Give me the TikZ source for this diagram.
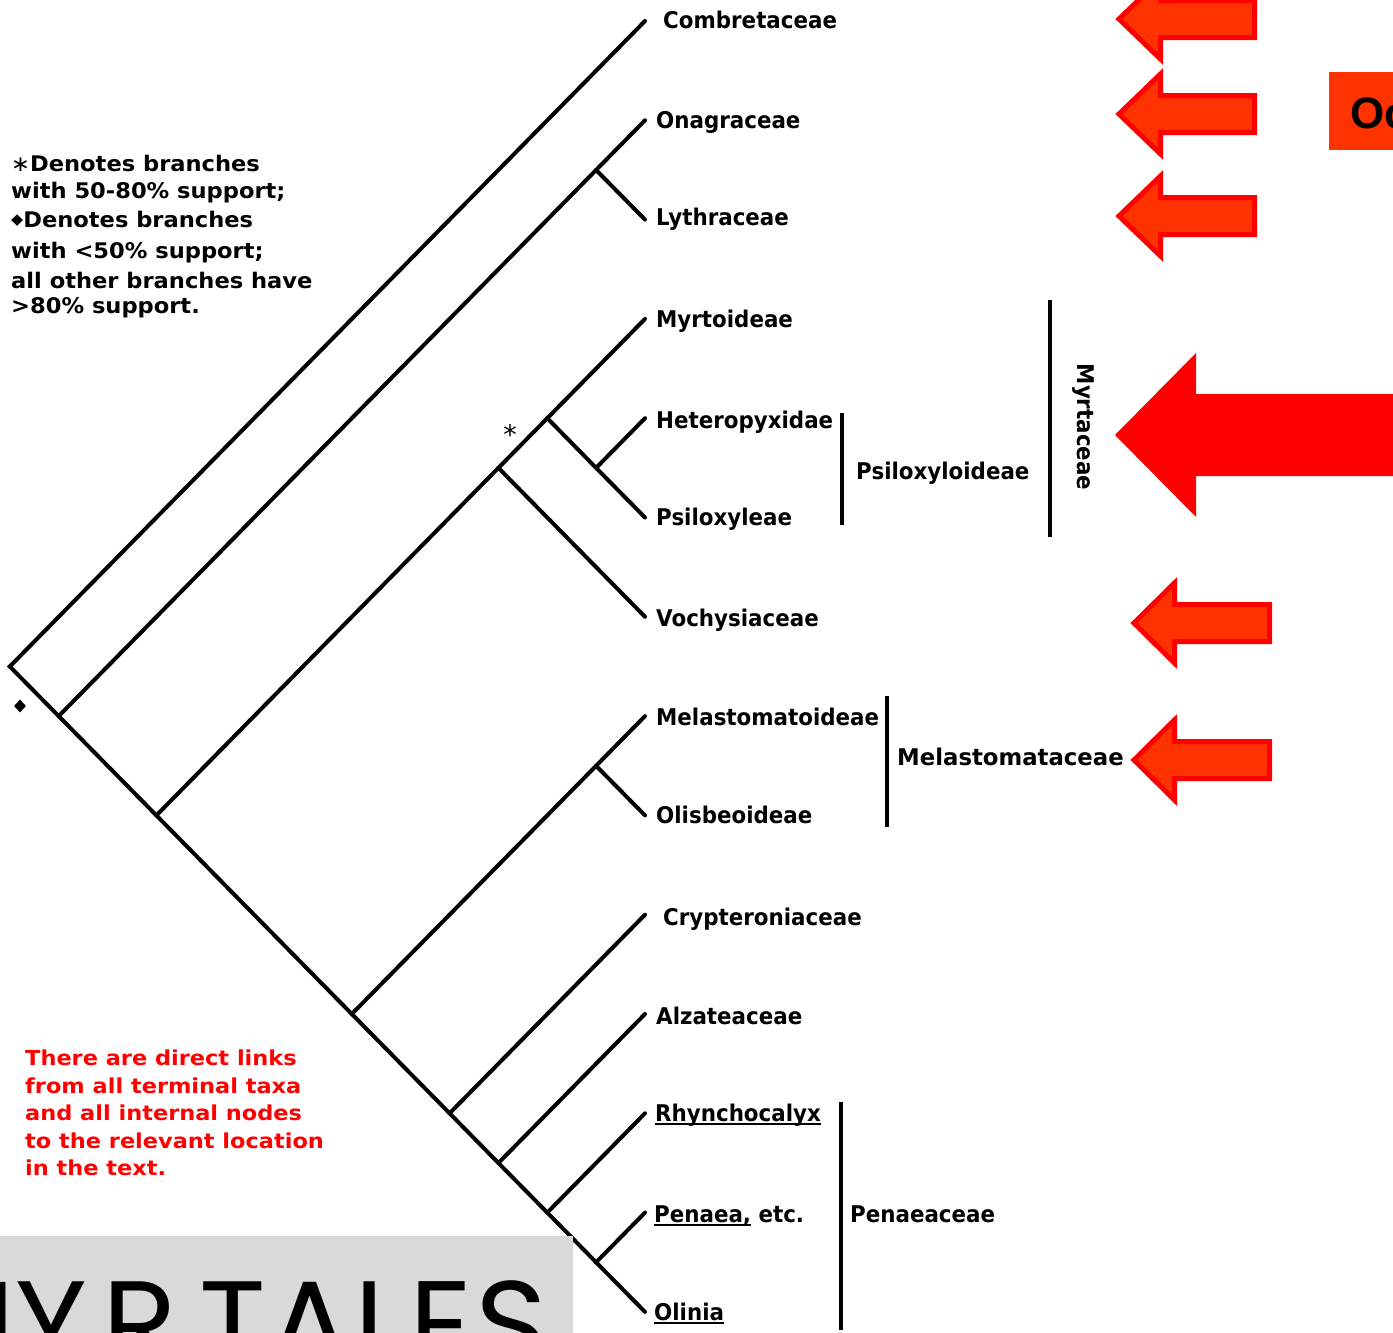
\documentclass[tikz,border=0pt]{standalone}
\usepackage{fontspec}
\setmainfont{DejaVu Sans}
\newfontfamily\lblf[FakeStretch=0.93]{DejaVu Sans}
\newfontfamily\legf[FakeStretch=1.05]{DejaVu Sans}
\newfontfamily\notef[FakeStretch=1.09]{DejaVu Sans}
\newfontfamily\bigf[LetterSpace=2.0]{Poppins}
\newfontfamily\ocf{Liberation Sans}
\usetikzlibrary{shapes.geometric}
\definecolor{arrowfill}{HTML}{FF3300}
\definecolor{arrowline}{HTML}{FF0000}
\definecolor{boxgray}{HTML}{D9D9D9}
\newcommand\ulin[1]{\setbox0\hbox{#1}\rlap{\rule[-4pt]{\wd0}{2.5pt}}\box0\relax}
\tikzset{
  lbl/.style={font=\lblf\bfseries\fontsize{23}{27}\selectfont, anchor=base west, inner sep=0pt},
  grp/.style={lbl},
  leg/.style={font=\legf\bfseries\fontsize{21.5}{26}\selectfont, anchor=base west, inner sep=0pt},
  note/.style={font=\notef\bfseries\fontsize{20.6}{26}\selectfont, anchor=base west, inner sep=0pt, text=red},
  branch/.style={line width=4pt, line cap=round, line join=miter},
  bar/.style={line width=4pt},
  flag/.style={fill=arrowfill, draw=arrowline, line width=5pt, line join=miter},
}
\begin{document}
\begin{tikzpicture}[x=1pt,y=-1pt]
\useasboundingbox (0,0) rectangle (1393,1333);

% tips
\coordinate (t0) at (645,21);
\coordinate (t1) at (645,120.3);
\coordinate (t2) at (645,219.6);
\coordinate (t3) at (645,318.9);
\coordinate (t4) at (645,418.2);
\coordinate (t5) at (645,517.5);
\coordinate (t6) at (645,616.8);
\coordinate (t7) at (645,716.1);
\coordinate (t8) at (645,815.4);
\coordinate (t9) at (645,914.7);
\coordinate (t10) at (645,1014);
\coordinate (t11) at (645,1113.3);
\coordinate (t12) at (645,1212.6);
\coordinate (t13) at (645,1311.9);
% internal nodes
\coordinate (root) at (9.8,666.5);
\coordinate (nA) at (58.7,716.1);
\coordinate (nOL) at (596.1,170);
\coordinate (nB) at (156.4,815.4);
\coordinate (nC) at (498.4,467.9);
\coordinate (nE) at (547.3,418.2);
\coordinate (nF) at (596.1,467.9);
\coordinate (nD) at (351.8,1014);
\coordinate (nG) at (596.1,765.8);
\coordinate (nH) at (449.6,1113.3);
\coordinate (nI) at (498.4,1163);
\coordinate (nJ) at (547.3,1212.6);
\coordinate (nK) at (596.1,1262.3);

% tree
\draw[branch] (t0) -- (root) -- (nA);
\draw[branch] (nA) -- (nB) -- (nD) -- (nH) -- (nI) -- (nJ) -- (nK) -- (t13);
\draw[branch] (nA) -- (nOL);
\draw[branch] (nOL) -- (t1);
\draw[branch] (nOL) -- (t2);
\draw[branch] (nB) -- (nC);
\draw[branch] (nC) -- (nE);
\draw[branch] (nC) -- (t6);
\draw[branch] (nE) -- (t3);
\draw[branch] (nE) -- (nF);
\draw[branch] (nF) -- (t4);
\draw[branch] (nF) -- (t5);
\draw[branch] (nD) -- (nG);
\draw[branch] (nG) -- (t7);
\draw[branch] (nG) -- (t8);
\draw[branch] (nH) -- (t9);
\draw[branch] (nI) -- (t10);
\draw[branch] (nJ) -- (t11);
\draw[branch] (nK) -- (t12);

% support marks
\node[font=\fontsize{27}{27}\selectfont, anchor=base, inner sep=0pt] (star) at (510,444) {*};
\node[shape=diamond, fill=black, inner sep=0pt, minimum width=12pt, minimum height=13pt] (dmark) at (20,706) {};

% tip labels
\node[lbl] (Lcomb) at (663,28) {Combretaceae};
\node[lbl] (Lonag) at (656,128) {Onagraceae};
\node[lbl] (Llyth) at (656,225) {Lythraceae};
\node[lbl] (Lmyrt) at (656,327) {Myrtoideae};
\node[lbl] (Lhete) at (656,428) {Heteropyxidae};
\node[lbl] (Lpsil) at (656,525) {Psiloxyleae};
\node[lbl] (Lvoch) at (656,626) {Vochysiaceae};
\node[lbl] (Lmelo) at (656,725) {Melastomatoideae};
\node[lbl] (Lolis) at (656,823) {Olisbeoideae};
\node[lbl] (Lcryp) at (663,925) {Crypteroniaceae};
\node[lbl] (Lalza) at (656,1024) {Alzateaceae};
\node[lbl] (Lrhyn) at (655,1121) {\ulin{Rhynchocalyx}};
\node[lbl] (Lpena) at (654,1222) {\ulin{Penaea,} etc.};
\node[lbl] (Lolin) at (654,1320) {\ulin{Olinia}};

% group bars and labels
\coordinate (bPs1) at (842,413); \coordinate (bPs2) at (842,525);
\draw[bar] (bPs1) -- (bPs2);
\node[grp] (Gpsil) at (856,479) {Psiloxyloideae};
\coordinate (bMy1) at (1050,300); \coordinate (bMy2) at (1050,537);
\draw[bar] (bMy1) -- (bMy2);
\node[font=\lblf\bfseries\fontsize{23}{27}\selectfont, inner sep=0pt, rotate=-90] (Gmyrt) at (1083,427) {Myrtaceae};
\coordinate (bMe1) at (887,696); \coordinate (bMe2) at (887,827);
\draw[bar] (bMe1) -- (bMe2);
\node[grp] (Gmela) at (897,765) {\scalebox{1.065}[1]{Melastomataceae}};
\coordinate (bPe1) at (841,1102); \coordinate (bPe2) at (841,1330);
\draw[bar] (bPe1) -- (bPe2);
\node[grp] (Gpena) at (850,1222) {Penaeaceae};

% legend
\node[leg] (leg1) at (11,171.7) {{\mdseries ∗}Denotes branches};
\node[leg] (leg2) at (11,198.3) {with 50-80\% support;};
\node[leg] (leg3) at (11,227.3) {{\mdseries\fontsize{15}{15}\selectfont\raisebox{3pt}{◆}}Denotes branches};
\node[leg] (leg4) at (11,258.3) {with <50\% support;};
\node[leg] (leg5) at (11,288.3) {all other branches have};
\node[leg] (leg6) at (11,313.3) {>80\% support.};

% note
\node[note] (note1) at (25,1065) {There are direct links};
\node[note] (note2) at (25,1093) {from all terminal taxa};
\node[note] (note3) at (25,1120) {and all internal nodes};
\node[note] (note4) at (25,1148) {to the relevant location};
\node[note] (note5) at (25,1175) {in the text.};

% arrows
\draw[flag] (1119,19) -- ++(41.5,-40) -- ++(0,21.5) -- ++(94,0) -- ++(0,37) -- ++(-94,0) -- ++(0,21.5) -- cycle;
\draw[flag] (1119,114) -- ++(41.5,-40) -- ++(0,21.5) -- ++(94,0) -- ++(0,37) -- ++(-94,0) -- ++(0,21.5) -- cycle;
\draw[flag] (1119,216) -- ++(41.5,-40) -- ++(0,21.5) -- ++(94,0) -- ++(0,37) -- ++(-94,0) -- ++(0,21.5) -- cycle;
\draw[flag] (1134,623) -- ++(40.5,-40) -- ++(0,21.5) -- ++(95,0) -- ++(0,37) -- ++(-95,0) -- ++(0,21.5) -- cycle;
\draw[flag] (1134,760) -- ++(40.5,-40) -- ++(0,21.5) -- ++(95,0) -- ++(0,37) -- ++(-95,0) -- ++(0,21.5) -- cycle;
\fill[red] (1115,435) -- (1196,353) -- (1196,394) -- (1400,394) -- (1400,476) -- (1196,476) -- (1196,517) -- cycle;

% Oc box
\fill[arrowfill] (1329,72) rectangle (1400,150);
\node[font=\ocf\bfseries\fontsize{44}{44}\selectfont, anchor=base west, inner sep=0pt] (oc) at (1350,128) {Oc};

% title box
\fill[boxgray] (0,1236) rectangle (573,1340);
\begin{scope}
\clip (0,1236) rectangle (573,1340);
\node[font=\bigf\fontsize{123}{123}\selectfont, anchor=base east, inner sep=0pt] (title) at (548,1367) {M\kern0pt Y\kern15pt R\kern23pt TALES};
\end{scope}
\end{tikzpicture}
\end{document}
